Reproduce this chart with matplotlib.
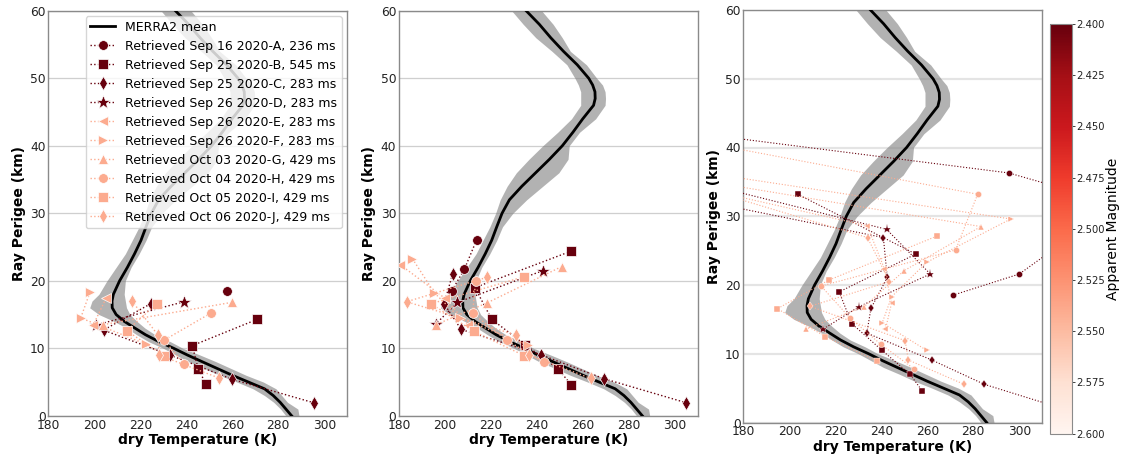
import matplotlib
matplotlib.use('Agg')
import matplotlib.pyplot as plt
from matplotlib import colors, cm

# ---------------- MERRA2 mean profile ----------------
alt_km = [60, 58, 56, 54, 52, 50, 49, 48, 47, 46, 44, 42, 40, 38, 36, 34, 32, 30, 28, 26, 24, 22,
          20, 18, 17, 16, 15, 14, 13, 12, 11, 10, 9, 8, 7, 6, 5, 4, 3, 2, 1, 0]
merra_mean = [235.3, 241.0, 246.0, 251.5, 257.5, 262.5, 264.2, 265.2, 265.3, 264.6, 259.9, 255.6,
              251.0, 245.4, 239.4, 233.4, 228.0, 224.8, 222.5, 220.3, 217.5, 214.4, 211.0, 208.3,
              207.7, 207.8, 209.5, 213.0, 217.6, 222.3, 228.0, 234.5, 240.5, 247.0, 253.5, 260.0,
              267.0, 274.0, 277.8, 280.8, 283.3, 285.8]
merra_lo = [229.0, 234.0, 239.5, 246.5, 253.0, 256.5, 258.0, 259.0, 259.0, 259.0, 255.0, 249.0,
            242.5, 236.5, 231.0, 227.0, 224.0, 222.0, 219.5, 216.5, 213.5, 209.5, 205.5, 202.0,
            199.0, 198.0, 202.0, 208.5, 214.0, 218.5, 223.5, 230.0, 235.5, 241.0, 248.0, 254.5,
            262.0, 269.0, 274.0, 278.0, 281.0, 283.3]
merra_hi = [242.0, 247.0, 251.0, 254.5, 261.5, 266.0, 268.5, 269.6, 269.8, 269.6, 265.5, 258.5,
            254.0, 253.5, 249.5, 242.5, 235.5, 229.5, 225.0, 222.5, 219.5, 216.0, 213.5, 213.0,
            213.5, 214.0, 215.5, 218.5, 222.0, 226.5, 233.0, 238.5, 246.0, 253.0, 259.5, 266.0,
            273.5, 279.0, 281.5, 284.0, 288.5, 289.0]

# ---------------- retrievals ----------------
series_ids = ['A', 'B', 'C', 'D', 'E', 'F', 'G', 'H', 'I', 'J']
series_labels = ['Retrieved Sep 16 2020-A, 236 ms', 'Retrieved Sep 25 2020-B, 545 ms',
                 'Retrieved Sep 25 2020-C, 283 ms', 'Retrieved Sep 26 2020-D, 283 ms',
                 'Retrieved Sep 26 2020-E, 283 ms', 'Retrieved Sep 26 2020-F, 283 ms',
                 'Retrieved Oct 03 2020-G, 429 ms', 'Retrieved Oct 04 2020-H, 429 ms',
                 'Retrieved Oct 05 2020-I, 429 ms', 'Retrieved Oct 06 2020-J, 429 ms']
series_markers = ['o', 's', 'd', '*', '<', '>', '^', 'o', 's', 'd']
series_magnitude = [2.40, 2.40, 2.40, 2.40, 2.54, 2.54, 2.54, 2.54, 2.54, 2.54]

# panel 1
p1_temp = {'A': [257.6], 'B': [270.9, 242.6, 245.2, 248.6], 'C': [224.5, 204.0, 232.9, 260.0, 295.7],
           'D': [239.0, 200.7], 'E': [205.1, 199.6], 'F': [198.1, 194.1, 222.5], 'G': [259.7, 203.7],
           'H': [250.6, 230.3, 239.0], 'I': [227.1, 214.1, 230.3], 'J': [216.3, 227.8, 228.2, 254.2]}
p1_alt = {'A': [18.5], 'B': [14.3, 10.4, 6.9, 4.7], 'C': [16.6, 12.7, 9.0, 5.4, 1.9],
          'D': [16.9, 13.45], 'E': [17.4, 13.5], 'F': [18.3, 14.5, 10.6], 'G': [16.8, 13.5],
          'H': [15.2, 11.2, 7.7], 'I': [16.6, 12.6, 8.9], 'J': [17.05, 11.9, 9.0, 5.6]}

# panel 2
p2_temp = {'A': [213.8, 208.4, 202.9], 'B': [254.9, 213.0, 220.3, 234.9, 249.0, 254.9],
           'C': [203.3, 199.6, 207.0, 241.6, 269.1, 304.8], 'D': [242.5, 205.4, 196.0],
           'E': [180.5, 200.0, 210.0], 'F': [185.8, 195.4, 206.5, 236.0], 'G': [250.7, 218.1, 196.0],
           'H': [213.3, 212.0, 226.8, 243.0], 'I': [234.3, 193.9, 212.6, 234.5],
           'J': [218.1, 183.3, 230.7, 236.5, 263.3]}
p2_alt = {'A': [26.1, 21.7, 18.5], 'B': [24.4, 19.0, 14.3, 10.5, 7.0, 4.6],
          'C': [21.0, 16.6, 12.8, 9.05, 5.5, 1.94], 'D': [21.5, 16.8, 13.6],
          'E': [22.4, 17.4, 13.5], 'F': [23.3, 18.2, 14.5, 10.5], 'G': [22.1, 16.7, 13.5],
          'H': [19.9, 15.2, 11.2, 7.9], 'I': [20.6, 16.6, 12.5, 8.9],
          'J': [20.5, 16.9, 12.0, 9.0, 5.55]}

# panel 3
p3_temp = {'A': [160.0, 295.4, 342.4, 300.0, 271.0],
           'B': [203.6, 255.0, 221.7, 227.1, 240.3, 252.5, 257.8],
           'C': [160.0, 240.9, 242.6, 235.5, 233.7, 261.9, 284.8, 320.0],
           'D': [160.0, 242.3, 261.3, 230.3, 214.8],
           'E': [160.0, 233.9, 241.3, 244.5, 241.8],
           'F': [160.0, 296.3, 259.7, 244.5, 240.4, 259.7],
           'G': [160.0, 283.3, 250.0, 232.5, 207.3],
           'H': [160.0, 281.9, 272.3, 213.8, 226.4, 239.7, 254.2],
           'I': [264.1, 217.1, 194.8, 215.7, 238.3],
           'J': [160.0, 234.0, 243.5, 209.0, 250.4, 251.7, 276.0]}
p3_alt = {'A': [42.05, 36.3, 31.8, 21.6, 18.5],
          'B': [33.2, 24.5, 19.0, 14.4, 10.5, 7.0, 4.6],
          'C': [32.4, 26.9, 21.1, 16.6, 13.0, 9.1, 5.55, 1.9],
          'D': [35.0, 28.1, 21.6, 16.85, 13.6],
          'E': [34.2, 28.6, 22.4, 17.4, 13.55],
          'F': [36.5, 29.6, 23.3, 18.3, 14.5, 10.5],
          'G': [35.3, 28.5, 22.1, 16.85, 13.6],
          'H': [40.9, 33.2, 25.1, 19.85, 15.2, 11.4, 7.8],
          'I': [27.1, 20.7, 16.55, 12.5, 8.9],
          'J': [34.3, 26.9, 20.5, 16.9, 11.9, 9.1, 5.55]}

x_ticks = [180, 200, 220, 240, 260, 280, 300]
y_ticks = [0, 10, 20, 30, 40, 50, 60]
cbar_ticks = [2.400, 2.425, 2.450, 2.475, 2.500, 2.525, 2.550, 2.575, 2.600]

# ---------------- drawing ----------------
plt.rcParams['font.family'] = ['DejaVu Sans']
cmap = plt.get_cmap('Reds_r')
norm = colors.Normalize(vmin=2.4, vmax=2.6)

W, H = 1122, 455
fig = plt.figure(figsize=(W / 100, H / 100), dpi=100)


def px_axes(x0, y0, x1, y1):
    return fig.add_axes([x0 / W, 1 - y1 / H, (x1 - x0) / W, (y1 - y0) / H])


ax1 = px_axes(48.3, 10.8, 347.3, 415.8)
ax2 = px_axes(399.0, 10.8, 698.0, 415.8)
ax3 = px_axes(743.3, 10.0, 1042.3, 422.5)
cax = px_axes(1050, 24, 1072, 433.5)

panels = [(ax1, p1_temp, p1_alt, 7.0, 1.0, 0.5),
          (ax2, p2_temp, p2_alt, 7.0, 1.0, 0.5),
          (ax3, p3_temp, p3_alt, 4.5, 0.8, 0.3)]

for ax, temps, alts, ms, lw, mew in panels:
    ax.fill_betweenx(alt_km, merra_lo, merra_hi, color='gray', alpha=0.6, lw=0, zorder=2)
    ax.plot(merra_mean, alt_km, color='black', lw=2, label='MERRA2 mean', zorder=3)
    for sid, lab, mk, mag in zip(series_ids, series_labels, series_markers, series_magnitude):
        c = cmap(norm(mag))
        size = ms * 1.5 if mk == '*' else ms
        ax.plot(temps[sid], alts[sid], ls=':', lw=lw, color=c, marker=mk, ms=size,
                markeredgecolor='white', markeredgewidth=mew, label=lab, zorder=4)
    ax.set_xlim(180, 310)
    ax.set_ylim(0, 60)
    ax.set_xticks(x_ticks)
    ax.set_yticks(y_ticks)
    ax.tick_params(length=0, pad=2, labelsize=8.8, colors='#222222')
    ax.set_xlabel('dry Temperature (K)', fontsize=10, fontweight='bold', labelpad=1)
    ax.set_ylabel('Ray Perigee (km)', fontsize=10, fontweight='bold', labelpad=3)
    ax.set_axisbelow(True)
    ax.yaxis.grid(True, color='#cfcfcf', lw=0.9, zorder=0)
    for s in ax.spines.values():
        s.set_color('#8a8a8a')
        s.set_linewidth(1.0)

ax3.yaxis.grid(True, color='#e4e4e4', lw=1.6, zorder=0)

leg = ax1.legend(loc='upper right', fontsize=9, framealpha=0.8, borderaxespad=0.45,
                 handletextpad=0.8, labelspacing=0.48, borderpad=0.35)
leg.get_frame().set_edgecolor('#cccccc')

sm = cm.ScalarMappable(norm=norm, cmap=cmap)
sm.set_array([])
cb = fig.colorbar(sm, cax=cax, ticks=cbar_ticks)
cb.ax.invert_yaxis()
cb.ax.set_yticklabels(['%.3f' % t for t in cbar_ticks])
cb.ax.tick_params(labelsize=7.2, length=2.0, width=0.6, pad=1.0, colors='#222222')
cb.outline.set_edgecolor('#8a8a8a')
cb.set_label('Apparent Magnitude', fontsize=10, labelpad=1)

fig.savefig('out.png', dpi=100)
